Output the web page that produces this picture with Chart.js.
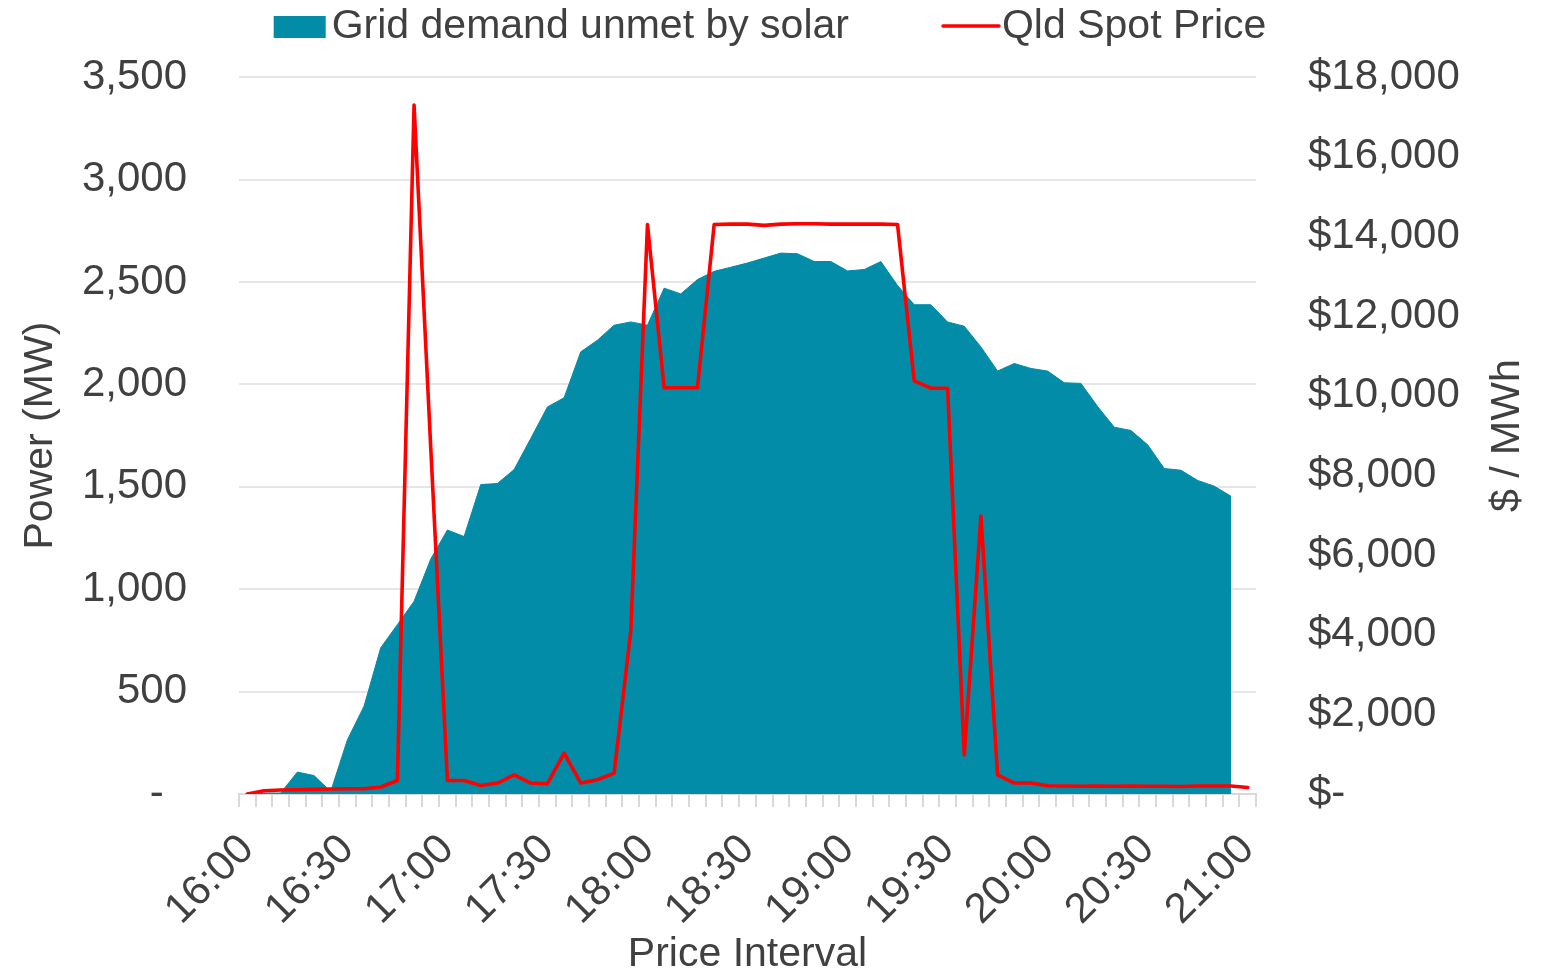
<!DOCTYPE html>
<html>
<head>
<meta charset="utf-8">
<script src="https://cdn.jsdelivr.net/npm/chart.js@4.4.1/dist/chart.umd.min.js"></script>
<style>
html,body{margin:0;padding:0;background:#ffffff;overflow:hidden}
canvas{display:block}
</style>
</head>
<body>
<canvas id="chart" width="1554" height="973"></canvas>
<script>
// ---- data ----
const categories = [
  '16:00','16:05','16:10','16:15','16:20','16:25','16:30','16:35','16:40','16:45',
  '16:50','16:55','17:00','17:05','17:10','17:15','17:20','17:25','17:30','17:35',
  '17:40','17:45','17:50','17:55','18:00','18:05','18:10','18:15','18:20','18:25',
  '18:30','18:35','18:40','18:45','18:50','18:55','19:00','19:05','19:10','19:15',
  '19:20','19:25','19:30','19:35','19:40','19:45','19:50','19:55','20:00','20:05',
  '20:10','20:15','20:20','20:25','20:30','20:35','20:40','20:45','20:50','20:55',
  '21:00'
];

// Grid demand unmet by solar (MW)
const gridDemandUnmet = [
  5, 5, 5, 107, 90, 12, 264, 429, 714, 827,
  941, 1147, 1289, 1257, 1511, 1516, 1584, 1736, 1890, 1935,
  2159, 2216, 2289, 2305, 2289, 2470, 2442, 2512, 2552, 2572,
  2593, 2617, 2641, 2638, 2600, 2600, 2554, 2561, 2600, 2483,
  2389, 2389, 2305, 2284, 2183, 2065, 2102, 2078, 2065, 2008,
  2005, 1892, 1791, 1775, 1705, 1589, 1581, 1531, 1503, 1454,
  null
];

// Qld Spot Price ($/MWh)
const qldSpotPrice = [
  0, 82, 100, 108, 115, 125, 130, 133, 175, 340,
  17300, 8700, 340, 340, 215, 275, 483, 275, 258, 1025,
  275, 358, 525, 4100, 14300, 10200, 10200, 10200, 14300, 14310,
  14310, 14280, 14310, 14320, 14320, 14310, 14310, 14310, 14310, 14300,
  10375, 10190, 10190, 980, 6980, 483, 275, 275, 208, 200,
  195, 200, 195, 200, 195, 195, 190, 200, 200, 200,
  165
];

const labeledTickEvery = 6;           // a label every 30 minutes
const powerAxisRange = [0, 3500, 500];
const priceAxisRange = [0, 18000, 2000];
const seriesNames = ['Grid demand unmet by solar', 'Qld Spot Price'];
const axisTitles = { power: 'Power (MW)', price: '$ / MWh', x: 'Price Interval' };

// ---- styling ----
const FONT = "'Liberation Sans', Arial, sans-serif";
const TEXT = '#404040';
const TEAL = '#028ca8';
const RED = '#ff0000';

const fmt = n => n.toString().replace(/\B(?=(\d{3})+(?!\d))/g, ',');

const customDecor = {
  id: 'customDecor',
  afterDraw(chart) {
    const ctx = chart.ctx;
    const area = chart.chartArea;
    ctx.save();
    // legend
    ctx.font = '41px ' + FONT;
    ctx.textBaseline = 'middle';
    ctx.textAlign = 'left';
    const boxW = 52, boxH = 22, lineW = 56, gap1 = 6, gap2 = 3, itemGap = 94;
    const w1 = ctx.measureText(seriesNames[0]).width;
    const w2 = ctx.measureText(seriesNames[1]).width;
    const total = boxW + gap1 + w1 + itemGap + lineW + gap2 + w2;
    let x = (chart.width - total) / 2 - 7;
    const cy = 27;
    ctx.fillStyle = TEAL;
    ctx.fillRect(x, cy - boxH / 2, boxW, boxH);
    x += boxW + gap1;
    ctx.fillStyle = TEXT;
    ctx.fillText(seriesNames[0], x, cy);
    x += w1 + itemGap;
    ctx.strokeStyle = RED;
    ctx.lineWidth = 3.5;
    ctx.lineCap = 'round';
    ctx.beginPath();
    ctx.moveTo(x, cy - 1);
    ctx.lineTo(x + lineW, cy - 1);
    ctx.stroke();
    x += lineW + gap2;
    ctx.fillText(seriesNames[1], x, cy);
    // right axis title, reading bottom-to-top
    ctx.translate(area.right + 252, (area.top + area.bottom) / 2);
    ctx.rotate(-Math.PI / 2);
    ctx.textAlign = 'center';
    ctx.fillText(axisTitles.price, 0, 0);
    ctx.restore();
  }
};

new Chart(document.getElementById('chart'), {
  data: {
    labels: categories,
    datasets: [
      {
        type: 'line',
        label: seriesNames[1],
        data: qldSpotPrice,
        yAxisID: 'yPrice',
        borderColor: RED,
        borderWidth: 3.6,
        borderJoinStyle: 'round',
        borderCapStyle: 'round',
        pointRadius: 0,
        tension: 0,
        fill: false,
        order: 0
      },
      {
        type: 'line',
        label: seriesNames[0],
        data: gridDemandUnmet,
        yAxisID: 'yPower',
        borderColor: TEAL,
        backgroundColor: TEAL,
        borderWidth: 1,
        pointRadius: 0,
        tension: 0,
        fill: 'origin',
        spanGaps: false,
        order: 1
      }
    ]
  },
  options: {
    responsive: false,
    animation: false,
    devicePixelRatio: 1,
    layout: { padding: { top: 71, left: 0, right: 0, bottom: 0 } },
    plugins: {
      legend: { display: false },
      tooltip: { enabled: false }
    },
    scales: {
      x: {
        type: 'category',
        offset: true,
        grid: {
          display: true,
          offset: true,
          drawOnChartArea: false,
          drawTicks: true,
          tickLength: 13,
          color: '#d9d9d9',
          lineWidth: 2
        },
        border: { display: true, color: '#d9d9d9', width: 2 },
        ticks: {
          autoSkip: false,
          minRotation: 45,
          maxRotation: 45,
          padding: 18,
          color: TEXT,
          font: { family: FONT, size: 42 },
          callback: (v, i) => (i % labeledTickEvery === 0 ? categories[i] : '')
        },
        title: {
          display: true,
          text: axisTitles.x,
          color: TEXT,
          font: { family: FONT, size: 41, lineHeight: 0.9 },
          padding: { top: 0, bottom: 0 }
        },
        afterFit: s => { s.height = 179; }
      },
      yPower: {
        type: 'linear',
        position: 'left',
        min: powerAxisRange[0],
        max: powerAxisRange[1],
        ticks: {
          stepSize: powerAxisRange[2],
          padding: 52,
          color: TEXT,
          font: { family: FONT, size: 42 },
          callback: v => (v === 0 ? '-\u2007' : fmt(v))
        },
        grid: { color: '#e6e6e6', lineWidth: 2, drawTicks: false },
        border: { display: false },
        title: {
          display: true,
          text: axisTitles.power,
          color: TEXT,
          font: { family: FONT, size: 41, lineHeight: 1 },
          padding: { top: 20, bottom: 0 }
        },
        afterFit: s => { s.width = 239; }
      },
      yPrice: {
        type: 'linear',
        position: 'right',
        min: priceAxisRange[0],
        max: priceAxisRange[1],
        ticks: {
          stepSize: priceAxisRange[2],
          padding: 52,
          color: TEXT,
          font: { family: FONT, size: 42 },
          callback: v => (v === 0 ? '$-' : '$' + fmt(v))
        },
        grid: { display: false, drawOnChartArea: false, drawTicks: false },
        border: { display: false },
        afterFit: s => { s.width = 298; }
      }
    }
  },
  plugins: [customDecor]
});
</script>
</body>
</html>
